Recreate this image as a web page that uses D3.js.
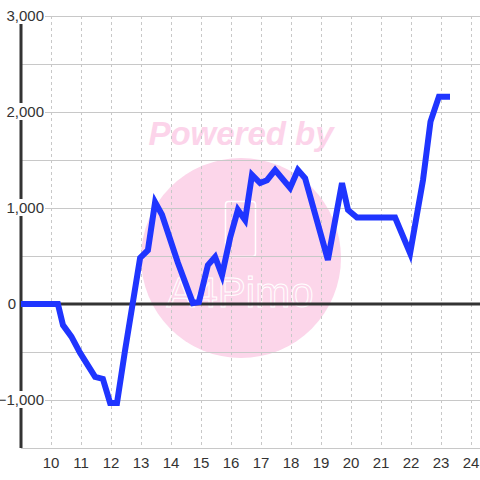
<!DOCTYPE html>
<html>
<head>
<meta charset="utf-8">
<script src="https://cdn.jsdelivr.net/npm/d3@7/dist/d3.min.js"></script>
<style>
  html, body { margin: 0; padding: 0; background: #fff; }
  svg { display: block; font-family: "Liberation Sans", Arial, sans-serif; }
</style>
</head>
<body>
<svg id="chart" width="480" height="480"></svg>
<script>
"use strict";

// hours of the day (x) and values (y)
var hours = [9.0, 10.23, 10.4, 10.68, 10.97, 11.47, 11.73, 11.97, 12.2, 12.47,
    12.97, 13.23, 13.47, 13.7, 14.23, 14.73, 14.93, 15.23, 15.47, 15.7,
    15.97, 16.23, 16.47, 16.7, 16.97, 17.2, 17.47, 17.97, 18.23, 18.47,
    19.23, 19.7, 19.9, 20.2, 21.47, 21.97, 22.4, 22.65, 22.93, 23.3];
var values = [0, 0, -220, -340, -510, -760, -780, -1030, -1030, -480,
    480, 560, 1060, 930, 430, 10, 20, 405, 490, 300,
    690, 980, 875, 1345, 1260, 1290, 1395, 1210, 1395, 1310,
    460, 1260, 980, 900, 900, 530, 1290, 1900, 2160, 2160];

var xTicks = [10, 11, 12, 13, 14, 15, 16, 17, 18, 19, 20, 21, 22, 23, 24];
var yLabels = [-1000, 0, 1000, 2000, 3000];
var yGrid = [-1500, -1000, -500, 0, 500, 1000, 1500, 2000, 2500, 3000];

var svg = d3.select('#chart');

var plotLeft = 21, plotRight = 480, plotTop = 16, plotBottom = 448;

var x = d3.scaleLinear().domain([9, 24.3]).range([plotLeft, plotRight]);
var y = d3.scaleLinear().domain([-1500, 3000]).range([plotBottom, plotTop]);

var fmt = d3.format(',');

// watermark
var wm = svg.append('g').attr('class', 'watermark');
wm.append('circle')
    .attr('cx', 241)
    .attr('cy', 258)
    .attr('r', 100)
    .attr('fill', '#fcd6ea');
wm.append('text')
    .attr('x', 241)
    .attr('y', 145)
    .attr('text-anchor', 'middle')
    .attr('font-size', 33)
    .attr('font-weight', 'bold')
    .attr('font-style', 'italic')
    .attr('fill', '#fcd4ea')
    .text('Powered by');
wm.append('rect')
    .attr('x', 225.5)
    .attr('y', 201.5)
    .attr('width', 30)
    .attr('height', 55)
    .attr('rx', 3)
    .attr('fill', 'none')
    .attr('stroke', '#fff')
    .attr('stroke-width', 1.5);
wm.append('text')
    .attr('x', 240)
    .attr('y', 307)
    .attr('text-anchor', 'middle')
    .attr('font-size', 42)
    .attr('fill', 'none')
    .attr('stroke', '#fff')
    .attr('stroke-width', 1)
    .text('A4Pimo');

// horizontal grid
svg.append('g')
    .selectAll('line')
    .data(yGrid)
    .enter()
    .append('line')
    .attr('x1', plotLeft)
    .attr('x2', plotRight)
    .attr('y1', d => y(d) + 0.5)
    .attr('y2', d => y(d) + 0.5)
    .attr('stroke', '#c8c8c8')
    .attr('stroke-width', 1);

// vertical dashed grid
svg.append('g')
    .selectAll('line')
    .data(xTicks)
    .enter()
    .append('line')
    .attr('x1', d => Math.round(x(d)) + 0.5)
    .attr('x2', d => Math.round(x(d)) + 0.5)
    .attr('y1', plotTop)
    .attr('y2', plotBottom)
    .attr('stroke', '#c8c8c8')
    .attr('stroke-dasharray', '3,3');

// zero line
svg.append('line')
    .attr('x1', plotLeft)
    .attr('x2', plotRight)
    .attr('y1', y(0))
    .attr('y2', y(0))
    .attr('stroke', '#333')
    .attr('stroke-width', 3);

// y axis line
svg.append('line')
    .attr('x1', plotLeft)
    .attr('x2', plotLeft)
    .attr('y1', plotTop)
    .attr('y2', plotBottom)
    .attr('stroke', '#333')
    .attr('stroke-width', 3);

// series line
var line = d3.line()
    .x((d, i) => x(hours[i]))
    .y(d => y(d));

svg.append('path')
    .datum(values)
    .attr('d', line)
    .attr('fill', 'none')
    .attr('stroke', '#1f35ff')
    .attr('stroke-width', 6)
    .attr('stroke-linejoin', 'miter');

// y labels with white backing (the zero label sits left of the axis)
var yl = svg.append('g')
    .selectAll('g')
    .data(yLabels)
    .enter()
    .append('g')
    .attr('transform', d => `translate(${d === 0 ? 16 : 44},${y(d)})`);
yl.filter(d => d !== 0)
    .append('rect')
    .attr('x', d => -fmt(d).length * 7.6 - 2)
    .attr('y', -9)
    .attr('width', d => fmt(d).length * 7.6 + 3)
    .attr('height', 17)
    .attr('fill', '#fff');
yl.append('text')
    .attr('text-anchor', 'end')
    .attr('dy', '0.35em')
    .attr('font-size', 15)
    .attr('fill', '#333')
    .text(d => fmt(d));

// x labels
svg.append('g')
    .selectAll('text')
    .data(xTicks)
    .enter()
    .append('text')
    .attr('x', d => x(d))
    .attr('y', 468)
    .attr('text-anchor', 'middle')
    .attr('font-size', 15)
    .attr('fill', '#333')
    .text(d => d);
</script>
</body>
</html>
